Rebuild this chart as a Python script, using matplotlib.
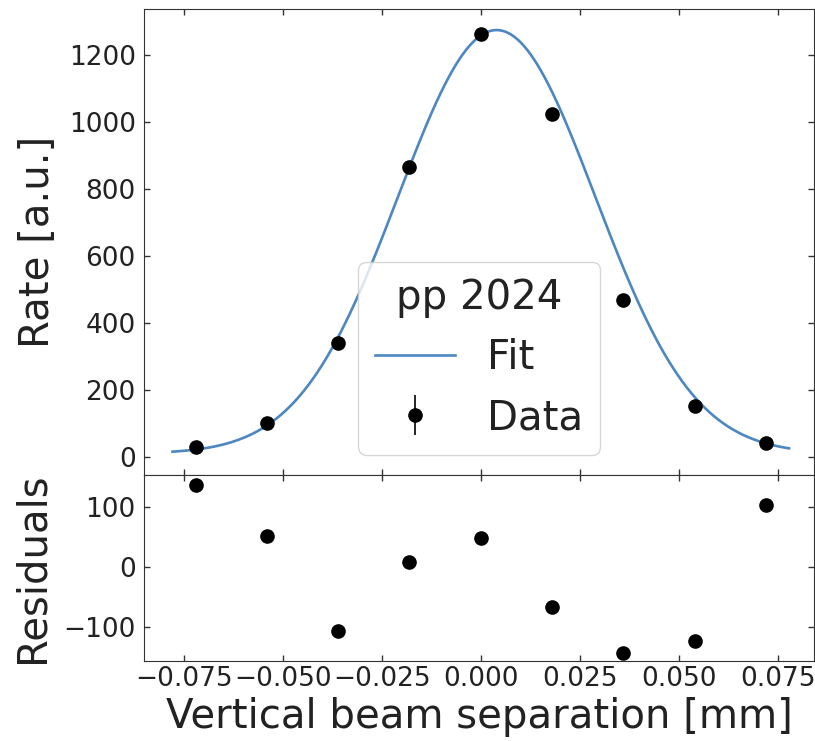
import numpy as np
import matplotlib
matplotlib.use("Agg")
from matplotlib import pyplot as plt

# scan points (vertical separation in mm)
separation = [-0.072, -0.054, -0.036, -0.018, 0.0, 0.018, 0.036, 0.054, 0.072]
rate = [31, 101, 339, 865, 1263, 1024, 470, 151, 42]
rate_err = [4, 5, 6, 7, 8, 7, 6, 5, 4]
residuals = [136, 52, -107, 9, 49, -67, -143, -124, 103]

# gaussian + constant fit result
fit_amp = 1265.0
fit_mean = 0.004
fit_sigma = 0.0249
fit_const = 10.0
fit_range = (-0.0778, 0.0778)

fit_color = "#4c87c2"
ink = "#222222"

plt.rcParams["font.family"] = "DejaVu Sans"
plt.rcParams["text.color"] = ink
plt.rcParams["axes.labelcolor"] = ink
plt.rcParams["axes.edgecolor"] = "#333333"
plt.rcParams["xtick.color"] = "#333333"
plt.rcParams["ytick.color"] = "#333333"
plt.rcParams["xtick.labelcolor"] = ink
plt.rcParams["ytick.labelcolor"] = ink

fig = plt.figure(figsize=(8.15, 7.41), dpi=100)
gs = fig.add_gridspec(2, 1, height_ratios=[2.5, 1], hspace=0,
                      left=0.1767, right=0.9988, top=0.9879, bottom=0.108)
ax = fig.add_subplot(gs[0])
ax_res = fig.add_subplot(gs[1], sharex=ax)

x_fit = np.linspace(fit_range[0], fit_range[1], 400)
y_fit = fit_amp * np.exp(-(x_fit - fit_mean) ** 2 / (2 * fit_sigma ** 2)) + fit_const

ax.plot(x_fit, y_fit, color=fit_color, lw=1.9, label="Fit", zorder=2)
ax.errorbar(separation, rate, yerr=rate_err, fmt="o", color="black",
            ms=9.5, elinewidth=1.2, label="Data", zorder=3)

ax_res.plot(separation, residuals, "o", color="black", ms=9.5)

ax.set_xlim(-0.085, 0.0841)
ax.set_ylim(-53, 1338)
ax_res.set_ylim(-157, 154)

ax.set_ylabel("Rate [a.u.]", fontsize=29, labelpad=8)
ax_res.set_ylabel("Residuals", fontsize=29, labelpad=8)
ax_res.set_xlabel("Vertical beam separation [mm]", fontsize=29, labelpad=4)

ax.set_yticks([0, 200, 400, 600, 800, 1000, 1200])
ax_res.set_yticks([-100, 0, 100])
ax_res.set_xticks([-0.075, -0.05, -0.025, 0.0, 0.025, 0.05, 0.075])

for a in (ax, ax_res):
    a.tick_params(direction="in", top=True, right=True, labelsize=19,
                  length=4.5, width=1.0)
    a.tick_params(axis="y", pad=6)
ax.tick_params(labelbottom=False)

leg = ax.legend(loc="lower center", title="pp 2024", fontsize=29,
                title_fontsize=29)

fig.savefig("out.png", dpi=100)
